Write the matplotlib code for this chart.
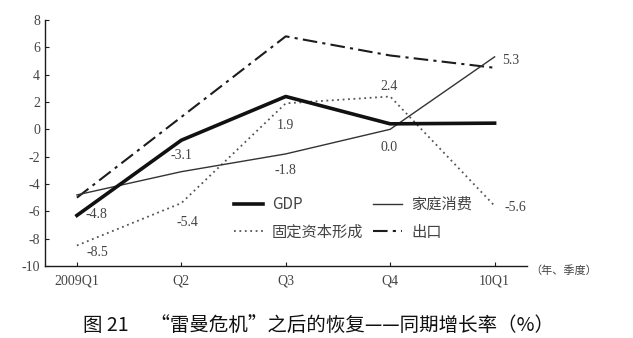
import matplotlib
matplotlib.use("Agg")
import matplotlib.pyplot as plt
from matplotlib.lines import Line2D

plt.rcParams['font.family'] = ['Liberation Serif', 'Noto Sans CJK SC', 'DejaVu Sans']
plt.rcParams['axes.unicode_minus'] = False

# --- data ---
quarters = ["2009Q1", "Q2", "Q3", "Q4", "10Q1"]
gdp = [-6.3, -0.8, 2.4, 0.4, 0.45]
consumption = [-4.8, -3.1, -1.8, 0.0, 5.3]
fixed_capital = [-8.5, -5.4, 1.9, 2.4, -5.6]
exports = [-5.0, 0.9, 6.8, 5.4, 4.5]

# value labels as printed on the chart
cons_labels = ["-4.8", "-3.1", "-1.8", "0.0", "5.3"]
fcf_labels = ["-8.5", "-5.4", "1.9", "2.4", "-5.6"]

x = list(range(len(quarters)))
ink = "#1c1c1c"
txt = "#444444"
dashdot = (0, (7, 2.5, 1.5, 2.5))

fig = plt.figure(figsize=(6.33, 3.38), dpi=100)
ax = fig.add_axes([0.071, 0.213, 0.7615, 0.728])

ax.plot(x, exports, color=ink, lw=1.5, ls=dashdot)
ax.plot(x, fixed_capital, color="#555555", lw=1.3, ls=(0, (1, 2)))
ax.plot(x, consumption, color="#333333", lw=1.0)
ax.plot(x, gdp, color="#111111", lw=2.6)

# data labels (positions in data units, placed like the original)
lab_kw = dict(color=txt, fontsize=10, ha="center", va="center")
cons_pos = [(0.19, -6.2), (1.0, -1.9), (2.0, -3.0), (2.99, -1.3), (4.15, 5.0)]
fcf_pos = [(0.2, -9.0), (1.06, -6.8), (2.0, 0.3), (2.99, 3.1), (4.2, -5.7)]
for (px, py), s in zip(cons_pos, cons_labels):
    ax.text(px, py, s, **lab_kw)
for (px, py), s in zip(fcf_pos, fcf_labels):
    ax.text(px, py, s, **lab_kw)

ax.set_xlim(-0.306, 4.31)
ax.set_ylim(-10, 8)
ax.set_xticks(x)
ax.set_xticklabels(quarters)
ax.set_yticks(range(-10, 9, 2))
ax.tick_params(direction="in", length=3, width=0.8, colors=ink, labelcolor=txt, labelsize=10)
ax.tick_params(axis="x", pad=6)
for s in ("top", "right"):
    ax.spines[s].set_visible(False)
for s in ("left", "bottom"):
    ax.spines[s].set_color(ink)
    ax.spines[s].set_linewidth(1.0)

ax.text(4.34, -10.35, "（年、季度）", color=txt, fontsize=8, ha="left", va="center",
        family=["Noto Sans CJK SC", "DejaVu Sans"])

handles = [
    Line2D([], [], color="#111111", lw=2.6),
    Line2D([], [], color="#555555", lw=1.3, ls=(0, (1, 2))),
    Line2D([], [], color="#333333", lw=1.0),
    Line2D([], [], color=ink, lw=1.5, ls=dashdot),
]
names = ["GDP", "固定资本形成", "家庭消费", "出口"]
ax.legend(handles, names, ncol=2, loc="upper left", bbox_to_anchor=(0.392, 0.285),
          frameon=False, handlelength=1.9, columnspacing=0.6,
          labelspacing=0.7, handletextpad=0.6, borderaxespad=0, borderpad=0,
          prop={"family": ["Noto Sans CJK SC", "DejaVu Sans"], "size": 11},
          labelcolor=txt)

fig.text(0.503, 0.038, "图 21     “雷曼危机”之后的恢复——同期增长率（%）",
         ha="center", va="center", fontsize=14, color="#111111",
         family=["Noto Sans CJK SC", "DejaVu Sans"])

fig.savefig("out.png", dpi=100, facecolor="white")
